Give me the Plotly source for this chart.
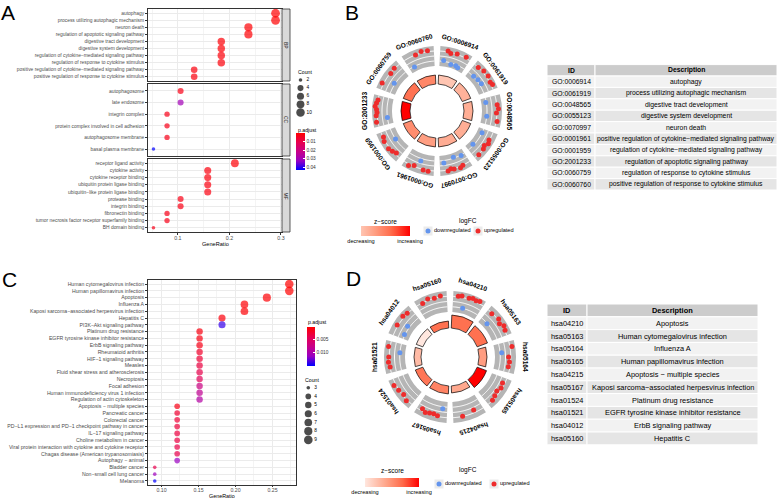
import math
import plotly.graph_objects as go

W, H = 778, 499
FONT = "Liberation Sans, Arial, sans-serif"

# ---------------- Panel A : GO enrichment (dot plot) ----------------
bp_terms = ["autophagy", "process utilizing autophagic mechanism", "neuron death",
            "regulation of apoptotic signaling pathway", "digestive tract development",
            "digestive system development", "regulation of cytokine\u2212mediated signaling pathway",
            "regulation of response to cytokine stimulus",
            "positive regulation of cytokine\u2212mediated signaling pathway",
            "positive regulation of response to cytokine stimulus"]
bp_count = [11, 11, 9, 9, 7, 7, 7, 7, 5, 5]
bp_padj = [0.0003, 0.0003, 0.0008, 0.0008, 0.0012, 0.0012, 0.0015, 0.0015, 0.0020, 0.0020]

cc_terms = ["autophagosome", "late endosome", "integrin complex",
            "protein complex involved in cell adhesion", "autophagosome membrane",
            "basal plasma membrane"]
cc_count = [4, 4, 3, 3, 3, 2]
cc_padj = [0.0030, 0.0300, 0.0035, 0.0035, 0.0035, 0.0430]

mf_terms = ["receptor ligand activity", "cytokine activity", "cytokine receptor binding",
            "ubiquitin protein ligase binding", "ubiquitin\u2212like protein ligase binding",
            "protease binding", "integrin binding", "fibronectin binding",
            "tumor necrosis factor receptor superfamily binding", "BH domain binding"]
mf_count = [8, 6, 6, 6, 6, 4, 4, 3, 3, 2]
mf_padj = [0.0010, 0.0020, 0.0020, 0.0022, 0.0022, 0.0030, 0.0030, 0.0035, 0.0035, 0.0035]

go_total = 38          # GeneRatio = Count / 38
a_count_legend = [2, 4, 6, 8, 10]
a_padj_ticks = [0.01, 0.02, 0.03, 0.04]

# ---------------- Panel C : KEGG enrichment (dot plot) ----------------
kegg_terms = ["Human cytomegalovirus infection", "Human papillomavirus infection", "Apoptosis",
              "Influenza A", "Kaposi sarcoma\u2212associated herpesvirus infection", "Hepatitis C",
              "PI3K\u2212Akt signaling pathway", "Platinum drug resistance",
              "EGFR tyrosine kinase inhibitor resistance", "ErbB signaling pathway",
              "Rheumatoid arthritis", "HIF\u22121 signaling pathway", "Measles",
              "Fluid shear stress and atherosclerosis", "Necroptosis", "Focal adhesion",
              "Human immunodeficiency virus 1 infection", "Regulation of actin cytoskeleton",
              "Apoptosis \u2212 multiple species", "Pancreatic cancer", "Colorectal cancer",
              "PD\u2212L1 expression and PD\u22121 checkpoint pathway in cancer",
              "IL\u221217 signaling pathway", "Choline metabolism in cancer",
              "Viral protein interaction with cytokine and cytokine receptor",
              "Chagas disease (American trypanosomiasis)", "Autophagy \u2212 animal",
              "Bladder cancer", "Non\u2212small cell lung cancer", "Melanoma"]
kegg_count = [9, 9, 8, 7, 7, 6, 6, 5, 5, 5, 5, 5, 5, 5, 5, 5, 5, 5,
              4, 4, 4, 4, 4, 4, 4, 4, 4, 3, 3, 3]
kegg_padj = [0.0005, 0.0005, 0.0007, 0.0008, 0.0008, 0.0010, 0.0140, 0.0012, 0.0014, 0.0016,
             0.0025, 0.0030, 0.0035, 0.0040, 0.0048, 0.0075, 0.0085, 0.0095,
             0.0015, 0.0028, 0.0030, 0.0032, 0.0034, 0.0036, 0.0038, 0.0040, 0.0115,
             0.0042, 0.0112, 0.0152]
kegg_total = 33        # GeneRatio = Count / 33
c_count_legend = [3, 4, 5, 6, 7, 8, 9]
c_padj_ticks = [0.005, 0.010]

# ---------------- Panel B : GO circle ----------------
b_ids = ["GO:0006914", "GO:0061919", "GO:0048565", "GO:0055123", "GO:0070997",
         "GO:0001961", "GO:0001959", "GO:2001233", "GO:0060759", "GO:0060760"]
b_desc = ["autophagy", "process utilizing autophagic mechanism", "digestive tract development",
          "digestive system development", "neuron death",
          "positive regulation of cytokine\u2212mediated signaling pathway",
          "regulation of cytokine\u2212mediated signaling pathway",
          "regulation of apoptotic signaling pathway",
          "regulation of response to cytokine stimulus",
          "positive regulation of response to cytokine stimulus"]
b_zscore = [0.70, 0.93, 0.98, 0.98, 1.00, 1.16, 1.34, 2.33, 1.63, 1.41]
b_sig = [9, 9, 9, 9, 9, 9, 9, 9, 9, 9]
b_logfc = [
    [-1.6, 2.4, 1.7, -2.6, 2.2, -2.4, -2.8, 2.5],
    [2.0, -1.8, 2.6, -1.4, 2.8, -1.2, 2.2, 2.6],
    [-2.2, 2.2, 2.6, 1.8, -2.0, 2.4],
    [-2.0, 1.8, 2.4, 1.4, 2.0, -2.4, 2.2],
    [-1.8, 2.0, 2.6, -2.4, 2.2, 1.8, 2.4, -1.0],
    [2.4, 2.2, -1.0, 1.6, 2.6],
    [1.4, 2.0, 2.6, -2.0, 2.4, 1.8],
    [2.6, -2.0, 2.4, 2.0, 2.2, 2.8, 2.4, 2.0],
    [2.6, -1.6, 1.8, 2.2],
    [-2.2, 2.0, 2.6, 2.4],
]

# ---------------- Panel D : KEGG circle ----------------
d_ids = ["hsa04210", "hsa05163", "hsa05164", "hsa05165", "hsa04215",
         "hsa05167", "hsa01524", "hsa01521", "hsa04012", "hsa05160"]
d_desc = ["Apoptosis", "Human cytomegalovirus infection", "Influenza A",
          "Human papillomavirus infection", "Apoptosis \u2212 multiple species",
          "Kaposi sarcoma\u2212associated herpesvirus infection", "Platinum drug resistance",
          "EGFR tyrosine kinase inhibitor resistance", "ErbB signaling pathway", "Hepatitis C"]
d_zscore = [2.12, 2.12, 1.50, 3.00, 1.34, 1.87, 2.04, 1.05, 0.37, 2.12]
d_sig = [13, 11, 8, 10, 7, 8, 8, 7, 7, 7]
d_logfc = [
    [2.2, 2.6, -2.0, 2.4, 2.8, 2.5, 2.9],
    [1.8, -2.2, 2.4, 1.6, 2.6, 2.2],
    [2.8, -1.4, 1.2, 1.6, 1.4],
    [1.2, 1.6, 0.9, 1.4, 2.0],
    [1.0, 2.0],
    [-1.2, 1.8, 1.4, 1.6, 2.0, 1.2],
    [2.4, 1.6, 2.2, 2.8],
    [2.0, 2.4, 2.2, -2.0, 2.6],
    [-1.8, 2.4, -1.2, 2.6, 2.2],
    [1.8, 2.6, 2.0, 2.4],
]

# ---------------- helpers ----------------
RED = "#EE2C2C"
BLUE = "#6495ED"
RB_SCALE = [[0, "#0000FF"], [0.25, "#9900C2"], [0.5, "#C80088"], [0.75, "#E7004F"], [1, "#FF0000"]]


def px_x(x):
    return x / W


def px_y(y):
    return 1 - y / H


def white_red(t):
    stops = [(0, (255, 255, 255)), (0.25, (255, 207, 191)), (0.5, (255, 158, 129)),
             (0.75, (255, 103, 70)), (1, (255, 0, 0))]
    t = max(0.0, min(1.0, t))
    for (t0, c0), (t1, c1) in zip(stops[:-1], stops[1:]):
        if t <= t1:
            f = (t - t0) / (t1 - t0)
            return "rgb(%d,%d,%d)" % tuple(round(a + (b - a) * f) for a, b in zip(c0, c1))
    return "rgb(255,0,0)"


def zscale(zmin, zmax):
    return [[i / 10, white_red((zmin + (zmax - zmin) * i / 10) / zmax)] for i in range(11)]


def dot_size(c, cmin, cmax, dmin, dmax):
    return dmin + (dmax - dmin) * math.sqrt((c - cmin) / (cmax - cmin))


fig = go.Figure()
annotations = []
shapes = []


def text(s, x, y, size, color="black", xanchor="center", angle=0, yanchor="middle"):
    annotations.append(dict(text=s, x=px_x(x), y=px_y(y), xref="paper", yref="paper",
                            xanchor=xanchor, yanchor=yanchor, showarrow=False, textangle=angle,
                            font=dict(size=size, color=color, family=FONT)))


# ---------------- Panel A ----------------
a_cmin, a_cmax = 2, 11
a_panels = [(bp_terms, bp_count, bp_padj, 9, 81, "BP"),
            (cc_terms, cc_count, cc_padj, 84, 156, "CC"),
            (mf_terms, mf_count, mf_padj, 159, 232, "MF")]
A_X0, A_X1 = 148, 282
layout_axes = {}
for k, (terms, counts, padj, y0, y1, strip) in enumerate(a_panels):
    idx = "" if k == 0 else str(k + 1)
    fig.add_trace(go.Scatter(
        x=[c / go_total for c in counts], y=terms, mode="markers",
        marker=dict(size=[dot_size(c, a_cmin, a_cmax, 3.6, 8.8) for c in counts],
                    color=[-p for p in padj], coloraxis="coloraxis", line=dict(width=0)),
        xaxis="x" + idx, yaxis="y" + idx, showlegend=False, hoverinfo="skip"))
    last = k == 2
    layout_axes["xaxis" + idx] = dict(
        domain=[px_x(A_X0), px_x(A_X1)], range=[0.042, 0.302], anchor="y" + idx,
        dtick=0.1, tick0=0, tickformat=".1f", showticklabels=last,
        ticks="outside" if last else "", ticklen=2, tickcolor="#333333",
        tickfont=dict(size=5.3, color="#4D4D4D", family=FONT), ticklabelstandoff=-1,
        showgrid=True, gridcolor="#EBEBEB", gridwidth=0.8,
        minor=dict(dtick=0.05, tick0=0, showgrid=True, gridcolor="#F4F4F4", gridwidth=0.5),
        showline=True, mirror=True, linecolor="#333333", linewidth=0.8, zeroline=False,
        automargin=False)
    n = len(terms)
    layout_axes["yaxis" + idx] = dict(
        domain=[px_y(y1), px_y(y0)], anchor="x" + idx, type="category",
        categoryorder="array", categoryarray=terms, range=[n - 0.4, -0.6],
        ticks="outside", ticklen=2, tickcolor="#333333",
        tickfont=dict(size=4.9, color="#4D4D4D", family=FONT),
        showgrid=True, gridcolor="#EBEBEB", gridwidth=0.8,
        showline=True, mirror=True, linecolor="#333333", linewidth=0.8, zeroline=False,
        automargin=False)
    shapes.append(dict(type="rect", xref="paper", yref="paper",
                       x0=px_x(A_X1), x1=px_x(290), y0=px_y(y1), y1=px_y(y0),
                       fillcolor="#D9D9D9", line=dict(color="#333333", width=0.8), layer="above"))
    text(strip, 286, (y0 + y1) / 2, 5, "#1A1A1A", angle=90)

text("GeneRatio", (A_X0 + A_X1) / 2, 244, 5.6)

# ---------------- Panel C ----------------
c_cmin, c_cmax = 3, 9
C_X0, C_X1, C_Y0, C_Y1 = 148, 296, 280, 485
fig.add_trace(go.Scatter(
    x=[c / kegg_total for c in kegg_count], y=kegg_terms, mode="markers",
    marker=dict(size=[dot_size(c, c_cmin, c_cmax, 3.6, 8.6) for c in kegg_count],
                color=[-p for p in kegg_padj], coloraxis="coloraxis2", line=dict(width=0)),
    xaxis="x4", yaxis="y4", showlegend=False, hoverinfo="skip"))
nk = len(kegg_terms)
layout_axes["xaxis4"] = dict(
    domain=[px_x(C_X0), px_x(C_X1)], range=[0.0818, 0.2818], anchor="y4",
    dtick=0.05, tick0=0, tickformat=".2f", ticks="outside", ticklen=1.5, tickcolor="#333333",
    tickfont=dict(size=5.2, color="#4D4D4D", family=FONT), ticklabelstandoff=-2,
    showgrid=True, gridcolor="#EBEBEB", gridwidth=0.8,
    minor=dict(dtick=0.025, tick0=0, showgrid=True, gridcolor="#F4F4F4", gridwidth=0.5),
    showline=True, mirror=True, linecolor="#333333", linewidth=0.8, zeroline=False, automargin=False)
layout_axes["yaxis4"] = dict(
    domain=[px_y(C_Y1), px_y(C_Y0)], anchor="x4", type="category",
    categoryorder="array", categoryarray=kegg_terms, range=[nk - 0.4, -0.6],
    ticks="outside", ticklen=2, tickcolor="#333333",
    tickfont=dict(size=5.2, color="#4D4D4D", family=FONT),
    showgrid=True, gridcolor="#EBEBEB", gridwidth=0.8,
    showline=True, mirror=True, linecolor="#333333", linewidth=0.8, zeroline=False, automargin=False)
text("GeneRatio", (C_X0 + C_X1) / 2, 496.3, 5.4)

# ---------------- overlay axis (pixel coordinates) for legends ----------------
layout_axes["xaxis5"] = dict(domain=[0, 1], range=[0, W], anchor="y5", visible=False, fixedrange=True)
layout_axes["yaxis5"] = dict(domain=[0, 1], range=[H, 0], anchor="x5", visible=False, fixedrange=True)


def count_legend(x, y_first, step, counts, cmin, cmax, dmin, dmax, title_y):
    ys = [y_first + step * i for i in range(len(counts))]
    fig.add_trace(go.Scatter(
        x=[x] * len(counts), y=ys, mode="markers",
        marker=dict(size=[dot_size(c, cmin, cmax, dmin, dmax) for c in counts], color="black", line=dict(width=0)),
        xaxis="x5", yaxis="y5", showlegend=False, hoverinfo="skip"))
    fig.add_trace(go.Scatter(
        x=[x + 6] * len(counts), y=ys, mode="text", text=[str(c) for c in counts],
        textposition="middle right", textfont=dict(size=4.8, color="black", family=FONT),
        xaxis="x5", yaxis="y5", showlegend=False, hoverinfo="skip"))
    text("Count", x - 5, title_y, 5.2, xanchor="left")


count_legend(300.5, 80, 8.1, a_count_legend, a_cmin, 11, 3.6, 8.8, 72)
count_legend(308.3, 387.7, 8.7, c_count_legend, c_cmin, c_cmax, 3.6, 8.6, 380)
text("p.adjust", 295.5, 129.5, 5.2, xanchor="left")
text("p.adjust", 306, 322, 5.2, xanchor="left")


# ---------------- circle plots ----------------
def circle(subplot, cx, cy, ids, zscore, sig, logfc, coloraxis, band, inner_base, label_r, lfc_k):
    n = len(ids)
    step = 360 / n
    centers = [step * (i + 0.5) for i in range(n)]
    seg_w = step - 6
    fig.add_trace(go.Barpolar(
        r=[band[1] - band[0]] * n, base=[band[0]] * n, theta=centers, width=[seg_w] * n,
        marker=dict(color="#B5B5B5", line=dict(width=0)), subplot=subplot,
        showlegend=False, hoverinfo="skip"))
    mid = (band[0] + band[1]) / 2
    q = (band[1] - band[0]) / 4
    ath, ar = [], []
    for c in centers:
        for rr in (mid - q, mid, mid + q):
            for s in range(int(seg_w) + 1):
                ath.append(c - seg_w / 2 + s)
                ar.append(rr)
            ath.append(None)
            ar.append(None)
    fig.add_trace(go.Scatterpolar(r=ar, theta=ath, mode="lines", line=dict(color="white", width=1),
                                  subplot=subplot, showlegend=False, hoverinfo="skip"))
    pth, pr, pc = [], [], []
    for c, genes in zip(centers, logfc):
        m = len(genes)
        w = seg_w - 6
        for j, v in enumerate(genes):
            pth.append(c - w / 2 + (j + 0.5) / m * w)
            pr.append(mid + lfc_k * v)
            pc.append(RED if v > 0 else BLUE)
    fig.add_trace(go.Scatterpolar(r=pr, theta=pth, mode="markers",
                                  marker=dict(size=5, color=pc, line=dict(width=0)),
                                  subplot=subplot, showlegend=False, hoverinfo="skip"))
    fig.add_trace(go.Barpolar(
        r=sig, base=[inner_base] * n, theta=centers, width=[step - 5] * n,
        marker=dict(color=zscore, coloraxis=coloraxis, line=dict(color="black", width=0.7)),
        subplot=subplot, showlegend=False, hoverinfo="skip"))
    for c, lab in zip(centers, ids):
        t = math.radians(c)
        x = cx + label_r * math.sin(t)
        y = cy - label_r * math.cos(t)
        ang = ((c + 180) % 360) - 180
        text("<b>%s</b>" % lab, x, y, 6.6, angle=ang)


R_DOM = 80
B_CX, B_CY = 437, 111
D_CX, D_CY = 450, 357
circle("polar", B_CX, B_CY, b_ids, b_zscore, b_sig, b_logfc, "coloraxis3", (45, 65), 27, 73, 2.5)
circle("polar2", D_CX, D_CY, d_ids, d_zscore, d_sig, d_logfc, "coloraxis4", (45, 66), 29, 76, 2.6)


def polar_layout(cx, cy):
    return dict(domain=dict(x=[px_x(cx - R_DOM), px_x(cx + R_DOM)], y=[px_y(cy + R_DOM), px_y(cy - R_DOM)]),
                bgcolor="rgba(0,0,0,0)", hole=0,
                radialaxis=dict(range=[0, R_DOM], visible=False),
                angularaxis=dict(visible=False, direction="clockwise", rotation=90))


def lfc_legend(y, x_down, x_up, title_x, title_y):
    fig.add_trace(go.Scatter(x=[x_down, x_up], y=[y, y], mode="markers",
                             marker=dict(symbol="square", size=9, color="#EBEBEB", line=dict(width=0)),
                             xaxis="x5", yaxis="y5", showlegend=False, hoverinfo="skip"))
    fig.add_trace(go.Scatter(x=[x_down, x_up], y=[y, y], mode="markers",
                             marker=dict(size=5, color=[BLUE, RED], line=dict(width=0)),
                             xaxis="x5", yaxis="y5", showlegend=False, hoverinfo="skip"))
    fig.add_trace(go.Scatter(x=[x_down + 6, x_up + 6], y=[y, y], mode="text",
                             text=["downregulated", "upregulated"], textposition="middle right",
                             textfont=dict(size=5.6, color="black", family=FONT),
                             xaxis="x5", yaxis="y5", showlegend=False, hoverinfo="skip"))
    text("logFC", title_x, title_y, 6.5)


lfc_legend(231, 428, 478, 468, 221)
lfc_legend(484, 439, 494, 468, 470)
text("z\u2212score", 385, 221, 6.5)
text("z\u2212score", 392, 470, 6.5)


# ---------------- tables (gridExtra style) ----------------
def table(ids, desc, x0, x1, y_top, row_h, id_w, font_size):
    n = len(ids)
    xm = x0 + id_w
    rows = [("<b>ID</b>", "<b>Description</b>", "#CCCCCC")]
    for i in range(n):
        rows.append((ids[i], desc[i], "#F2F2F2" if i % 2 == 0 else "#E5E5E5"))
    for r, (a, b, fill) in enumerate(rows):
        ya = y_top + r * row_h
        yb = ya + row_h
        for (u0, u1) in ((x0, xm), (xm, x1)):
            shapes.append(dict(type="rect", xref="paper", yref="paper",
                               x0=px_x(u0), x1=px_x(u1), y0=px_y(yb), y1=px_y(ya),
                               fillcolor=fill, line=dict(color="white", width=1), layer="below"))
        text(a, (x0 + xm) / 2, ya + row_h / 2, font_size)
        text(b, (xm + x1) / 2, ya + row_h / 2, font_size)


table(b_ids, b_desc, 547, 777, 64.6, 11.4, 48, 6.8)
table(d_ids, d_desc, 547, 758, 304, 12.8, 40, 7.4)

# ---------------- panel letters ----------------
for letter, x, y in [("A", 8, 12), ("B", 352, 12), ("C", 9, 279), ("D", 353, 278)]:
    text(letter, x, y, 21)

CB_COMMON = dict(xanchor="left", yanchor="top", lenmode="pixels", xpad=0, ypad=0,
                 outlinewidth=0, ticks="inside", ticklen=2, tickcolor="white")
fig.update_layout(
    width=W, height=H, margin=dict(l=0, r=0, t=0, b=0), template="none",
    paper_bgcolor="white", plot_bgcolor="rgba(0,0,0,0)", showlegend=False,
    font=dict(family=FONT),
    polar=polar_layout(B_CX, B_CY), polar2=polar_layout(D_CX, D_CY),
    coloraxis=dict(colorscale=RB_SCALE, cmin=-0.043, cmax=-0.0002,
                   colorbar=dict(x=px_x(296), y=px_y(133), len=37, thickness=9,
                                 tickvals=[-v for v in a_padj_ticks], ticktext=[str(v) for v in a_padj_ticks],
                                 tickfont=dict(size=4.8, color="#333333", family=FONT), **CB_COMMON)),
    coloraxis2=dict(colorscale=RB_SCALE, cmin=-0.01525, cmax=-0.0005,
                    colorbar=dict(x=px_x(307), y=px_y(327.3), len=39.4, thickness=8,
                                  tickvals=[-v for v in c_padj_ticks],
                                  ticktext=["%.3f" % v for v in c_padj_ticks],
                                  tickfont=dict(size=4.8, color="#333333", family=FONT), **CB_COMMON)),
    coloraxis3=dict(colorscale=zscale(min(b_zscore), max(b_zscore)), cmin=min(b_zscore), cmax=max(b_zscore),
                    colorbar=dict(orientation="h", x=px_x(361), xanchor="left", y=px_y(226), yanchor="top",
                                  lenmode="pixels", len=49, thickness=10, xpad=0, ypad=0,
                                  outlinewidth=0, ticks="",
                                  tickvals=[min(b_zscore), max(b_zscore)], ticktext=["decreasing", "increasing"],
                                  tickfont=dict(size=5.6, color="black", family=FONT))),
    coloraxis4=dict(colorscale=zscale(min(d_zscore), max(d_zscore)), cmin=min(d_zscore), cmax=max(d_zscore),
                    colorbar=dict(orientation="h", x=px_x(365), xanchor="left", y=px_y(478), yanchor="top",
                                  lenmode="pixels", len=54, thickness=9, xpad=0, ypad=0,
                                  outlinewidth=0, ticks="",
                                  tickvals=[min(d_zscore), max(d_zscore)], ticktext=["decreasing", "increasing"],
                                  tickfont=dict(size=5.6, color="black", family=FONT))),
    annotations=annotations, shapes=shapes,
    **layout_axes)

fig.write_html("out.html", config={"displayModeBar": False},
               post_script="document.body.style.margin='0';document.documentElement.style.margin='0';"
                           "document.body.style.overflow='hidden';")
